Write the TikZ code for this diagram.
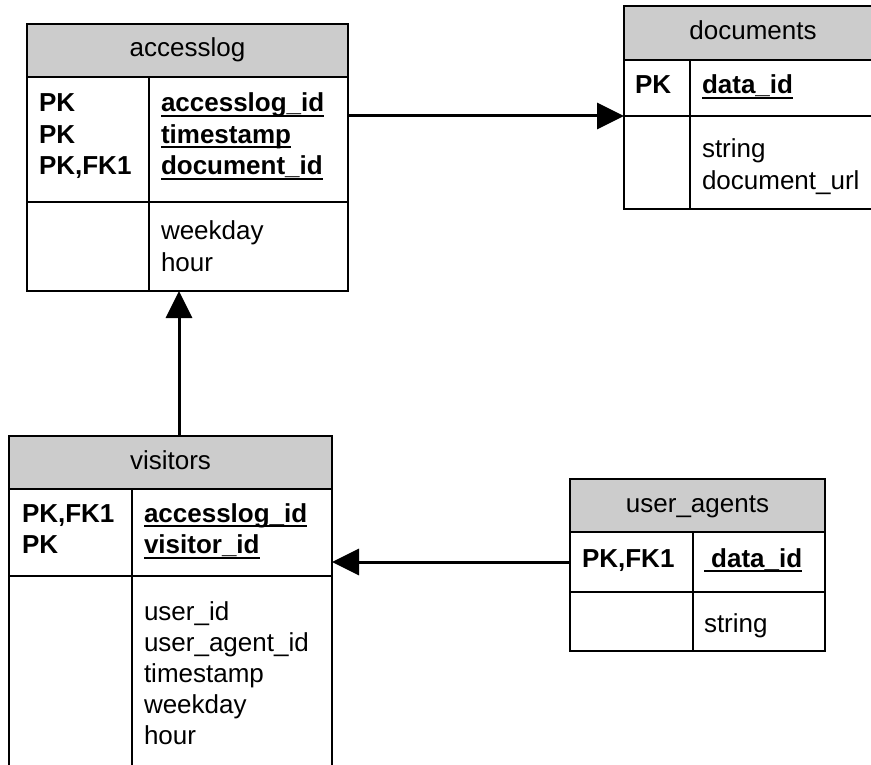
\documentclass[tikz,border=0pt]{standalone}
\usepackage{fontspec}
\setmainfont{Liberation Sans}
\usetikzlibrary{calc, arrows.meta, positioning}
\definecolor{headgray}{RGB}{204,204,204}
\newcommand{\pkfield}[1]{\setbox0\hbox{#1}\rlap{\rule[-5pt]{\wd0}{2pt}}\box0}

\begin{document}
\begin{tikzpicture}[
  x=1pt, y=-1pt,
  every node/.style={font=\fontsize{26pt}{31.5pt}\selectfont, inner sep=0pt, outer sep=0pt},
  tabhead/.style={draw, fill=headgray, line width=2pt, anchor=north west,
    minimum height=53pt, text height=18pt, text depth=5pt},
  tabpart/.style={draw, line width=2pt, anchor=north west},
  keytext/.style={anchor=base west, font=\fontsize{26pt}{31.5pt}\selectfont\bfseries},
  coltext/.style={anchor=base west},
  link/.style={line width=3pt, -{Triangle[length=27pt, width=26pt]}}
]
\useasboundingbox (0,0) rectangle (871,765);
\clip (0,0) rectangle (871,765);
% accesslog
\node[tabhead, minimum width=321pt] (al-head) at (27,24) {accesslog};
\node[tabpart, minimum width=321pt, minimum height=125pt] (al-keys) at (al-head.south west) {};
\node[tabpart, minimum width=321pt, minimum height=89pt] (al-attr) at (al-keys.south west) {};
\draw[line width=2pt] ($(al-keys.north west)+(122,0)$) -- ($(al-attr.south west)+(122,0)$);
\foreach \t [count=\i from 0] in {PK, PK, {PK,FK1}}
  \node[keytext] (al-k\i) at ($(al-keys.north west)+(12,{35+31.5*\i})$) {\t};
\foreach \t [count=\i from 0] in {accesslog\_id, timestamp, document\_id}
  \node[keytext] (al-f\i) at ($(al-keys.north west)+(134,{35+31.5*\i})$) {\pkfield{\t}};
\foreach \t [count=\i from 0] in {weekday, hour}
  \node[coltext] (al-a\i) at ($(al-attr.north west)+(134,{38+31.5*\i})$) {\t};
% documents
\node[tabhead, minimum width=258pt, minimum height=54pt] (dc-head) at (624,6) {documents};
\node[tabpart, minimum width=258pt, minimum height=56pt] (dc-keys) at (dc-head.south west) {};
\node[tabpart, minimum width=258pt, minimum height=93pt] (dc-attr) at (dc-keys.south west) {};
\draw[line width=2pt] ($(dc-keys.north west)+(66,0)$) -- ($(dc-attr.south west)+(66,0)$);
\node[keytext] (dc-k0) at ($(dc-keys.north west)+(11,34)$) {PK};
\node[keytext] (dc-f0) at ($(dc-keys.north west)+(78,34)$) {\pkfield{data\_id}};
\foreach \t [count=\i from 0] in {string, document\_url}
  \node[coltext] (dc-a\i) at ($(dc-attr.north west)+(78,{42+32*\i})$) {\t};
% visitors
\node[tabhead, minimum width=323pt] (vi-head) at (9,436) {visitors};
\node[tabpart, minimum width=323pt, minimum height=87pt] (vi-keys) at (vi-head.south west) {};
\node[tabpart, minimum width=323pt, minimum height=200pt] (vi-attr) at (vi-keys.south west) {};
\draw[line width=2pt] ($(vi-keys.north west)+(123,0)$) -- ($(vi-attr.south west)+(123,0)$);
\foreach \t [count=\i from 0] in {{PK,FK1}, PK}
  \node[keytext] (vi-k\i) at ($(vi-keys.north west)+(13,{33+31.5*\i})$) {\t};
\foreach \t [count=\i from 0] in {accesslog\_id, visitor\_id}
  \node[keytext] (vi-f\i) at ($(vi-keys.north west)+(135,{33+31.5*\i})$) {\pkfield{\t}};
\foreach \t [count=\i from 0] in {user\_id, user\_agent\_id, timestamp, weekday, hour}
  \node[coltext] (vi-a\i) at ($(vi-attr.north west)+(135,{44+31*\i})$) {\t};
% user_agents
\node[tabhead, minimum width=255pt] (ua-head) at (570,479) {user\_agents};
\node[tabpart, minimum width=255pt, minimum height=60pt] (ua-keys) at (ua-head.south west) {};
\node[tabpart, minimum width=255pt, minimum height=59pt] (ua-attr) at (ua-keys.south west) {};
\draw[line width=2pt] ($(ua-keys.north west)+(123,0)$) -- ($(ua-attr.south west)+(123,0)$);
\node[keytext] (ua-k0) at ($(ua-keys.north west)+(12,35)$) {PK,FK1};
\node[keytext] (ua-f0) at ($(ua-keys.north west)+(134,35)$) {\pkfield{\ data\_id}};
\node[coltext] (ua-a0) at ($(ua-attr.north west)+(134,40)$) {string};
% links
\coordinate (al-in) at ($(al-attr.south)!0.5!(vi-head.north)$);
\draw[link] (al-keys.east |- dc-keys.south) -- (dc-keys.south west);
\draw[link] (vi-head.north -| al-in) -- (al-attr.south -| al-in);
\draw[link] (ua-keys.west) -- (ua-keys.west -| vi-keys.east);
\end{tikzpicture}
\end{document}
